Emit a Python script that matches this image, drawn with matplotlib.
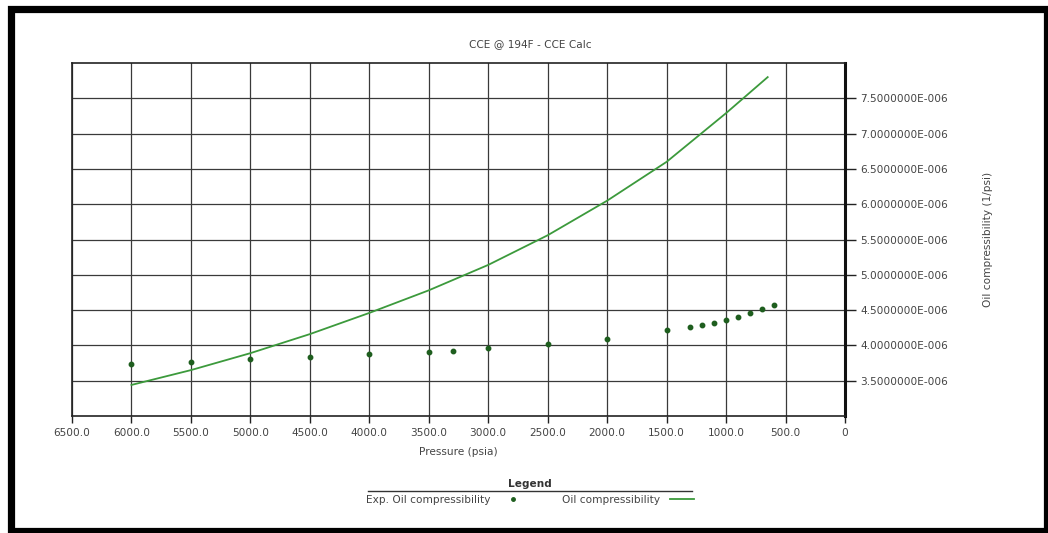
import matplotlib
matplotlib.use("Agg")
import matplotlib.pyplot as plt
from matplotlib.patches import Rectangle
from matplotlib.ticker import FuncFormatter, MultipleLocator
from matplotlib.lines import Line2D

plt.rcParams['font.family'] = ['DejaVu Sans']

title = "CCE @ 194F - CCE Calc"
x_label = "Pressure (psia)"
y_label = "Oil compressibility (1/psi)"
calc_name = "Oil compressibility"
exp_name = "Exp. Oil compressibility"

# Calculated oil compressibility (1/psi) vs pressure (psia)
calc_pressure = [6000, 5500, 5000, 4500, 4000, 3500, 3000, 2500, 2000, 1500, 1000, 650]
calc_comp = [3.44e-6, 3.65e-6, 3.89e-6, 4.16e-6, 4.46e-6, 4.78e-6, 5.14e-6,
             5.56e-6, 6.05e-6, 6.60e-6, 7.29e-6, 7.80e-6]

# Experimental oil compressibility
exp_pressure = [6000, 5500, 5000, 4500, 4000, 3500, 3300, 3000, 2500, 2000,
                1500, 1300, 1200, 1100, 1000, 900, 800, 700, 600]
exp_comp = [3.74e-6, 3.76e-6, 3.81e-6, 3.84e-6, 3.88e-6, 3.91e-6, 3.92e-6,
            3.96e-6, 4.02e-6, 4.09e-6, 4.22e-6, 4.26e-6, 4.29e-6, 4.32e-6,
            4.36e-6, 4.40e-6, 4.46e-6, 4.52e-6, 4.57e-6]

line_color = "#3c9a3c"
marker_color = "#1e5e1e"
text_color = "#444444"
fs = 7.6

fig = plt.figure(figsize=(10.48, 5.33), dpi=100)
ax = fig.add_axes([72 / 1048, 1 - 416 / 533, (845 - 72) / 1048, (416 - 63) / 533])

ax.plot(calc_pressure, calc_comp, color=line_color, lw=1.3, zorder=3)
ax.plot(exp_pressure, exp_comp, ls="none", marker="o", ms=3.2,
        color=marker_color, zorder=4)

ax.set_xlim(6500, 0)
ax.set_ylim(3.0e-6, 8.0e-6)
ax.xaxis.set_major_locator(MultipleLocator(500))
ax.set_yticks([3.5e-6, 4.0e-6, 4.5e-6, 5.0e-6, 5.5e-6, 6.0e-6, 6.5e-6, 7.0e-6, 7.5e-6])


def fmt_x(v, pos):
    return "0" if abs(v) < 1e-9 else f"{v:.1f}"


def fmt_y(v, pos):
    mant, exp = f"{v:.7E}".split("E")
    sign = exp[0]
    return f"{mant}E{sign}{int(exp[1:]):03d}"


ax.xaxis.set_major_formatter(FuncFormatter(fmt_x))
ax.yaxis.set_major_formatter(FuncFormatter(fmt_y))

ax.yaxis.tick_right()
ax.yaxis.set_label_position("right")
ax.tick_params(axis="y", direction="out", length=8, width=1, colors="#222222",
               labelcolor=text_color, labelsize=fs, pad=3)
ax.tick_params(axis="x", direction="out", length=5, width=1, colors="#222222",
               labelcolor=text_color, labelsize=fs, pad=4)

ax.grid(True, color="#3a3a3a", lw=0.9)
ax.set_axisbelow(True)
for side in ["top", "left", "bottom"]:
    ax.spines[side].set_color("#222222")
    ax.spines[side].set_linewidth(1.2)
ax.spines["right"].set_color("#111111")
ax.spines["right"].set_linewidth(2.2)

fig.text(530 / 1048, 1 - 44 / 533, title, ha="center", va="center",
         fontsize=fs, color=text_color)
ax.set_xlabel(x_label, fontsize=fs, color=text_color, labelpad=6)
ax.set_ylabel(y_label, fontsize=fs, color=text_color, rotation=90, labelpad=25)

# Legend block below the plot
handles = [
    Line2D([], [], ls="none", marker="o", ms=2.5, color=marker_color),
    Line2D([], [], color=line_color, lw=1.3),
]
leg = fig.legend(handles, [exp_name, calc_name], loc="center",
                 bbox_to_anchor=(530 / 1048, 1 - 500 / 533), ncol=2,
                 frameon=False, fontsize=fs, markerfirst=False,
                 handlelength=2.2, columnspacing=3.5, handletextpad=1.0)
for t in leg.get_texts():
    t.set_color(text_color)
fig.text(530 / 1048, 1 - 484 / 533, "Legend", ha="center", va="center",
         fontsize=fs, fontweight="bold", color="#333333")
fig.add_artist(Line2D([368 / 1048, 692 / 1048], [1 - 491 / 533, 1 - 491 / 533],
                      color="#333333", lw=1.0, transform=fig.transFigure))

# Outer frame around the figure
fig.add_artist(Rectangle((10.5 / 1048, 2 / 533), (1047 - 10.5) / 1048, (524 - 2) / 533,
                         transform=fig.transFigure, fill=False,
                         edgecolor="black", lw=5.2))

fig.savefig("out.png", dpi=100)
